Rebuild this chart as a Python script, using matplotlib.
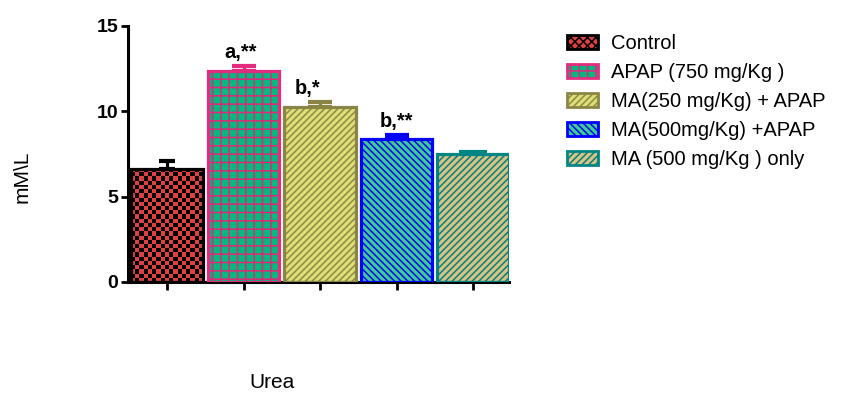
import numpy as np
import matplotlib
matplotlib.use("Agg")
import matplotlib.pyplot as plt
from matplotlib.patches import Patch
from matplotlib.colors import ListedColormap
from matplotlib.legend_handler import HandlerTuple

plt.rcParams['font.family'] = ['Liberation Sans', 'DejaVu Sans']
plt.rcParams['hatch.linewidth'] = 1.1

# datos
grupos = ['Control', 'APAP (750 mg/Kg )', 'MA(250 mg/Kg) + APAP',
          'MA(500mg/Kg) +APAP', 'MA (500 mg/Kg ) only']
medias = [6.62, 12.36, 10.27, 8.38, 7.48]
errores = [0.47, 0.31, 0.29, 0.25, 0.14]
signif = ['', 'a,**', 'b,*', 'b,**', '']

# estilos de cada barra
relleno = ['#E04040', '#00B97F', '#DEDE78', '#3CCF8E', '#D9C282']
trama_color = ['#000000', '#E0287A', '#8C8A46', '#0000FF', '#008080']
borde = ['#000000', '#E52B7F', '#8A8544', '#0000FF', '#008585']
tramas = [None, '++', '/////', '\\' * 5, '/////']
cap_px = [16, 24, 24, 24, 28]
desplaz_txt = [0, -0.04, -0.16, 0, 0]

fig = plt.figure(figsize=(8.42, 3.94), dpi=100)
ax = fig.add_axes([128/842, 112/394, 381/842, 256.3/394])

x = np.arange(len(grupos))
ancho = 0.94

# relleno con trama
barras = ax.bar(x, medias, width=ancho, color=relleno, edgecolor=trama_color,
                linewidth=0, zorder=2)
for b, h in zip(barras, tramas):
    if h:
        b.set_hatch(h)

# tablero para el control
b0 = barras[0]
nx, ny = 17, 27
tablero = (np.indices((ny, nx)).sum(axis=0) % 2)
im = ax.imshow(tablero, extent=(b0.get_x(), b0.get_x() + b0.get_width(), 0, b0.get_height()),
               cmap=ListedColormap([relleno[0], '#000000']), interpolation='nearest',
               aspect='auto', zorder=2.5)
im.set_clip_path(b0)

# contorno
ax.bar(x, medias, width=ancho, fill=False, edgecolor=borde, linewidth=2.3, zorder=4)

# barras de error (solo arriba)
for i in range(len(grupos)):
    ax.errorbar(x[i], medias[i], yerr=[[0], [errores[i]]], fmt='none',
                ecolor=borde[i], elinewidth=2.3, capsize=cap_px[i] * 0.72 / 2,
                capthick=3, zorder=1)

for i, t in enumerate(signif):
    if t:
        ax.text(x[i] + desplaz_txt[i], medias[i] + errores[i] + 0.2, t,
                ha='center', va='bottom', fontsize=14.5, fontweight='bold')

ax.set_xlim(-0.51, 4.47)
ax.set_ylim(0, 15)
ax.set_yticks([0, 5, 10, 15])
ax.set_xticks(x)
ax.set_xticklabels([])
for lab in ax.get_yticklabels():
    lab.set_fontweight('bold')
    lab.set_fontsize(14)
ax.tick_params(axis='y', length=5, width=2, pad=2)
ax.tick_params(axis='x', length=6, width=2)
for s in ['top', 'right']:
    ax.spines[s].set_visible(False)
for s in ['left', 'bottom']:
    ax.spines[s].set_linewidth(2.2)

fig.text(22/842, 1 - 177/394, 'mM\\L', rotation=90, ha='center', va='center', fontsize=15)
fig.text(272/842, 1 - 382/394, 'Urea', ha='center', va='center', fontsize=15)

# leyenda
manejadores = []
for i in range(len(grupos)):
    fondo = Patch(facecolor=relleno[i], edgecolor=trama_color[i], linewidth=0,
                  hatch=tramas[i] if tramas[i] else 'xxxx')
    contorno = Patch(facecolor='none', edgecolor=borde[i], linewidth=2)
    manejadores.append((fondo, contorno))
fig.legend(manejadores, grupos, handler_map={tuple: HandlerTuple(ndivide=1, pad=0)},
           loc='upper left', bbox_to_anchor=(567/842, 1 - 34/394), frameon=False,
           fontsize=14.5, handlelength=1.55, handleheight=0.7, handletextpad=0.65,
           labelspacing=0.5, borderpad=0, borderaxespad=0)

fig.savefig('out.png', dpi=100)
